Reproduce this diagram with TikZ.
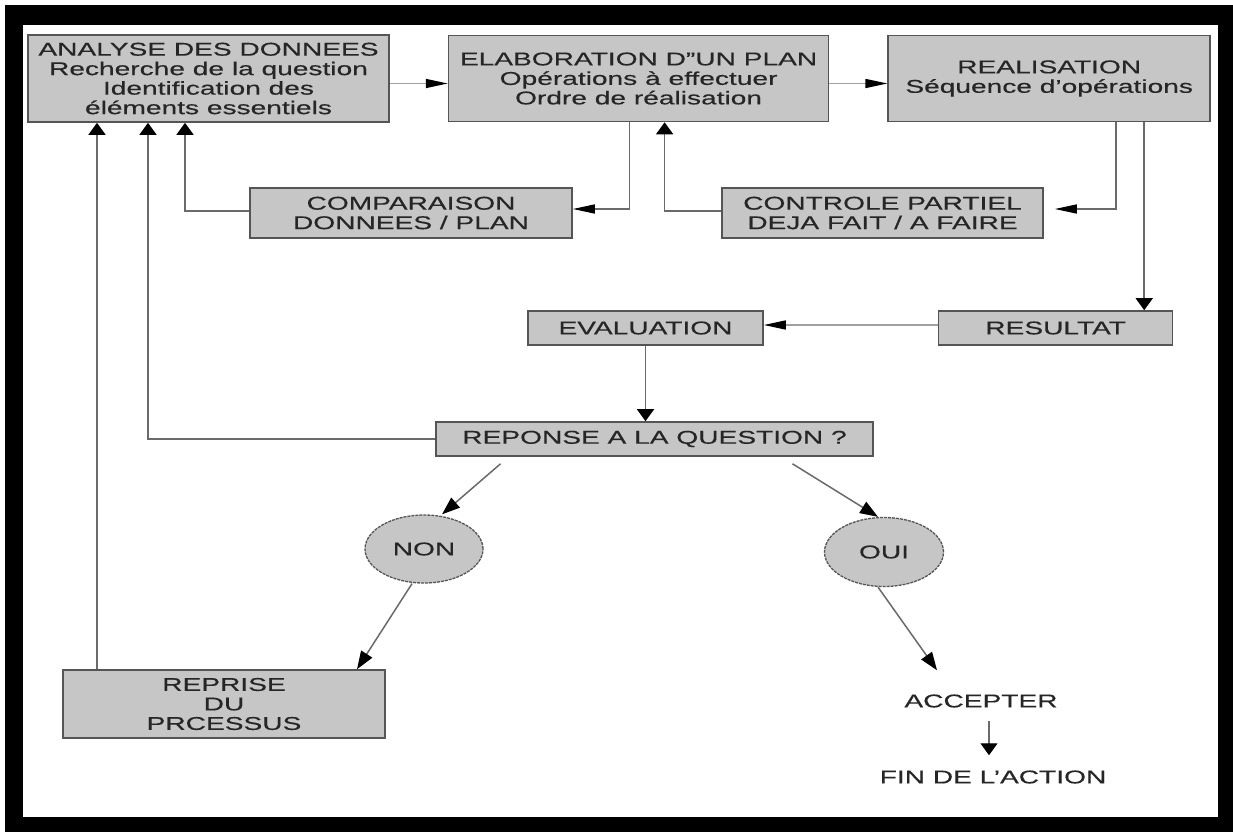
\documentclass[tikz,border=0pt]{standalone}
\usepackage{fontspec}
\setmainfont{Liberation Sans}[FakeStretch=1.52, FakeBold=0.35]
\usetikzlibrary{shapes.geometric, arrows.meta, positioning}
\definecolor{boxgray}{HTML}{C6C6C6}
\definecolor{edgegray}{HTML}{555555}
\definecolor{linegray}{HTML}{6A6A6A}
\definecolor{lightline}{HTML}{A0A0A0}
\definecolor{textgray}{HTML}{262626}

\begin{document}
\begin{tikzpicture}[x=1pt, y=-1pt,
                box/.style={rectangle, draw=edgegray, fill=boxgray, line width=1.6pt, inner sep=0pt, align=center, text=textgray, font=\fontsize{18.5}{19.5}\selectfont},
                answer/.style={ellipse, draw=edgegray, fill=boxgray, line width=1.3pt, dash pattern=on 3pt off 1pt, inner sep=0pt, text=textgray, font=\fontsize{18.5}{19.5}\selectfont},
                plain/.style={inner sep=0pt, text=textgray, font=\fontsize{18.5}{19.5}\selectfont},
                arrowv/.style={-{Triangle[length=12pt, width=17pt, color=black]}, draw=linegray, line width=1.5pt},
                arrowh/.style={-{Triangle[length=22pt, width=9pt, color=black]}, draw=linegray, line width=1.5pt},
                arrowd/.style={-{Triangle[length=18pt, width=13pt, color=black]}, draw=linegray, line width=1.5pt}]

            \useasboundingbox (0,0) rectangle (1233,832);
            % Frame
            \fill[black] (5,5) rectangle (1233,832);
            \fill[white] (23,25) rectangle (1218,817);

            \node[box, minimum width=361pt, minimum height=87pt] (ana) at (208.5,78.5) {ANALYSE DES DONNEES\\Recherche de la question\\Identification des\\éléments essentiels};
            \node[box, minimum width=380pt, minimum height=86pt, right=58pt of ana] (plan) {ELABORATION D"UN PLAN\\Opérations à effectuer\\Ordre de réalisation};
            \node[box, minimum width=322pt, minimum height=86pt, right=58pt of plan] (real) {REALISATION\\Séquence d'opérations};

            \node[box, minimum width=322pt, minimum height=50pt] (comp) at (411,213) {COMPARAISON\\DONNEES / PLAN};
            \node[box, minimum width=321pt, minimum height=50pt] (ctrl) at (882.5,213) {CONTROLE PARTIEL\\DEJA FAIT / A FAIRE};

            \node[box, minimum width=235pt, minimum height=34pt] (eval) at (645.5,328) {EVALUATION};
            \node[box, minimum width=234pt, minimum height=34pt, right=174pt of eval] (res) {RESULTAT};

            \node[box, minimum width=437pt, minimum height=34pt] (rep) at (654.5,439) {REPONSE A LA QUESTION ?};

            \node[answer, minimum width=118pt, minimum height=68pt] (non) at (424,549) {NON};
            \node[answer, minimum width=119pt, minimum height=69pt] (oui) at (884,552) {OUI};

            \node[box, minimum width=322pt, minimum height=68pt] (repr) at (224,704) {REPRISE\\DU\\PRCESSUS};

            \node[plain] (acc) at (981,701) {ACCEPTER};
            \node[plain] (fin) at (993,777) {FIN DE L'ACTION};

            % Connectors
            \draw[arrowh, draw=lightline] ([yshift=-5pt]ana.east) -- ([yshift=-5pt]plan.west);
            \draw[arrowh, draw=lightline] ([yshift=-5pt]plan.east) -- ([yshift=-5pt]real.west);
            \draw[arrowh] ([xshift=-9pt]plan.south) |- ([yshift=4pt]comp.east);
            \draw[arrowv] ([yshift=2pt]comp.west) -| ([xshift=-23.5pt]ana.south);
            \draw[arrowv] ([yshift=2pt]ctrl.west) -| ([xshift=26pt]plan.south);
            \draw[arrowh, shorten >=11pt] ([xshift=67pt]real.south) |- ([yshift=4pt]ctrl.east);
            \draw[arrowv] ([xshift=95pt]real.south) -- ([xshift=95pt]real.south |- res.north);
            \draw[arrowh, draw=lightline] ([yshift=3pt]res.west) -- ([yshift=3pt]eval.east);
            \draw[arrowv] (eval.south) -- (eval.south |- rep.north);
            \draw[arrowv] (rep.west) -| ([xshift=-60.5pt]ana.south);
            \draw[arrowv] ([xshift=-127pt]repr.north) -- ([xshift=-127pt]repr.north |- ana.south);
            \draw[arrowd] ([xshift=-154pt, yshift=-7pt]rep.south) -- ([xshift=18pt]non.north);
            \draw[arrowd] ([xshift=138pt, yshift=-7pt]rep.south) -- ([xshift=-6pt]oui.north);
            \draw[arrowd] ([xshift=-12pt]non.south) -- ([xshift=133pt]repr.north);
            \draw[arrowd] ([xshift=-6pt]oui.south) -- ([xshift=-44pt, yshift=24pt]acc.north);
            \draw[arrowv, line width=1.2pt, shorten <=13pt, shorten >=15pt] ([xshift=8pt]acc.south) -- ([xshift=8pt]acc.south |- fin.north);

        \end{tikzpicture}
\end{document}
